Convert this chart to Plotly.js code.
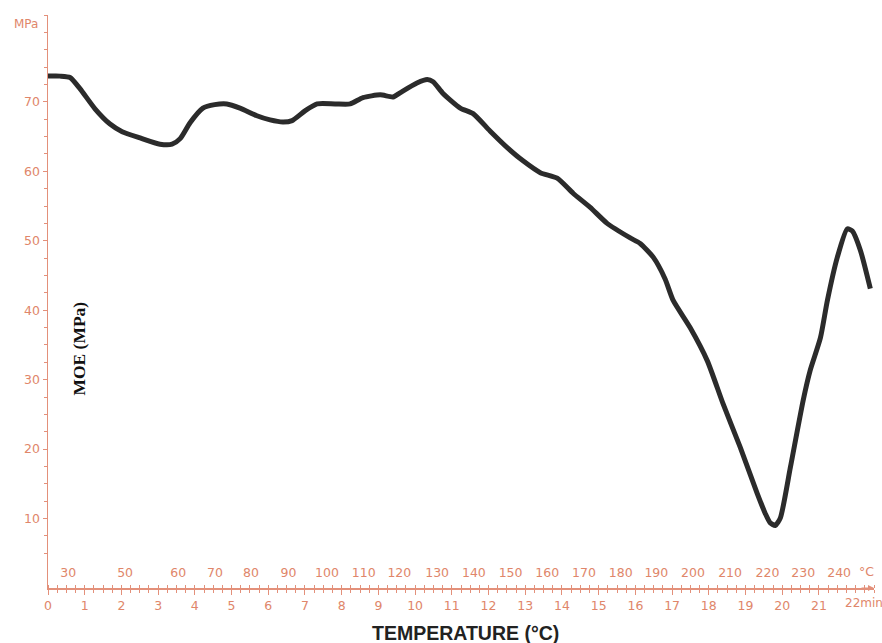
<!DOCTYPE html>
<html>
<head>
<meta charset="utf-8">
<script src="https://cdn.plot.ly/plotly-3.0.1.min.js"></script>
<style>html,body{margin:0;padding:0;background:#fff;}#chart{width:882px;height:643px;}</style>
</head>
<body>
<div id="chart"></div>
<script>
// Time (min) and MOE (MPa)
const timeMin = [0, 0.33, 0.6, 0.87, 1.28, 1.69, 2.02, 2.51, 3.05, 3.38, 3.6, 3.87, 4.22, 4.54, 4.87, 5.23, 5.69, 6.05, 6.4, 6.65, 7.0, 7.33, 7.82, 8.23, 8.58, 9.05, 9.4, 9.59, 10.05, 10.33, 10.49, 10.76, 11.23, 11.58, 12.04, 12.51, 12.94, 13.41, 13.87, 14.31, 14.77, 15.23, 15.86, 16.13, 16.49, 16.81, 17.03, 17.49, 17.96, 18.39, 18.86, 19.32, 19.54, 19.67, 19.81, 19.95, 20.22, 20.57, 20.76, 21.04, 21.23, 21.5, 21.77, 21.91, 22.13, 22.4];
const moe = [73.7, 73.7, 73.5, 71.9, 69.0, 66.8, 65.7, 64.8, 63.9, 63.9, 64.7, 67.0, 69.1, 69.6, 69.7, 69.1, 68.0, 67.4, 67.1, 67.3, 68.7, 69.7, 69.7, 69.7, 70.6, 71.0, 70.7, 71.3, 72.7, 73.2, 72.9, 71.2, 69.1, 68.3, 65.8, 63.4, 61.5, 59.8, 59.0, 56.8, 54.8, 52.5, 50.4, 49.6, 47.6, 44.5, 41.4, 37.5, 32.7, 26.5, 20.2, 13.6, 10.7, 9.4, 9.0, 10.1, 17.3, 27.0, 31.3, 36.0, 41.4, 47.6, 51.7, 51.4, 48.6, 43.1];

// Axis tick labels
const timeTicks = [0,1,2,3,4,5,6,7,8,9,10,11,12,13,14,15,16,17,18,19,20,21];
const timeTickText = ["0","1","2","3","4","5","6","7","8","9","10","11","12","13","14","15","16","17","18","19","20","21"];
const tempPos = [0.55, 2.1, 3.55, 4.55, 5.53, 6.55, 7.6, 8.6, 9.57, 10.6, 11.6, 12.6, 13.6, 14.6, 15.6, 16.57, 17.57, 18.58, 19.6, 20.57, 21.55];
const tempLabels = ["30","50","60","70","80","90","100","110","120","130","140","150","160","170","180","190","200","210","220","230","240"];
const tempUnit = "°C";
const timeEndLabel = "22min";
const yTicks = [10,20,30,40,50,60,70];

const axisColor = '#e3907a';
const labelColor = '#e0866a';
const tickFont = {family: 'DejaVu Sans, Verdana, sans-serif', size: 12.5, color: labelColor};

const trace = {
  x: timeMin, y: moe, type: 'scatter', mode: 'lines',
  line: {color: '#2b2b2b', width: 5, shape: 'spline', smoothing: 0.6},
  xaxis: 'x', yaxis: 'y', hoverinfo: 'skip'
};

const layout = {
  width: 882, height: 643,
  margin: {l: 48, r: 8, t: 15, b: 55},
  paper_bgcolor: '#ffffff', plot_bgcolor: '#ffffff',
  showlegend: false,
  xaxis: {
    range: [0, 22.5], showgrid: false, zeroline: false,
    showline: true, linecolor: axisColor, linewidth: 1.5,
    tickmode: 'array', tickvals: timeTicks, ticktext: timeTickText,
    ticks: 'outside', ticklen: 5, tickcolor: axisColor, tickwidth: 1,
    minor: {dtick: 0.25, tick0: 0, ticks: 'outside', ticklen: 3, tickcolor: axisColor, tickwidth: 1},
    tickfont: tickFont, fixedrange: true
  },
  xaxis2: {
    overlaying: 'x', anchor: 'y', side: 'bottom',
    range: [0, 22.5], showgrid: false, zeroline: false, showline: false,
    tickmode: 'array', tickvals: tempPos, ticktext: tempLabels,
    ticks: '', ticklabelposition: 'inside', ticklabelstandoff: 6,
    minor: {dtick: 0.25, tick0: 0, ticks: 'inside', ticklen: 3, tickcolor: axisColor, tickwidth: 1, showgrid: false},
    tickfont: tickFont, fixedrange: true
  },
  yaxis: {
    range: [0, 82.5], showgrid: false, zeroline: false,
    showline: true, linecolor: axisColor, linewidth: 1.5,
    tickmode: 'array', tickvals: yTicks,
    ticks: 'outside', ticklen: 4, tickcolor: axisColor, tickwidth: 1,
    minor: {dtick: 2.5, tick0: 0, ticks: 'outside', ticklen: 3, tickcolor: axisColor, tickwidth: 1},
    tickfont: tickFont, fixedrange: true
  },
  annotations: [
    {text: 'MPa', xref: 'paper', yref: 'y', x: 0, y: 81.2, xanchor: 'right', yanchor: 'middle', xshift: -8,
     showarrow: false, font: {family: 'DejaVu Sans, Verdana, sans-serif', size: 12, color: labelColor}},
    {text: tempUnit, xref: 'x', yref: 'paper', x: 22.3, y: 0, xanchor: 'center', yanchor: 'bottom', yshift: 7,
     showarrow: false, font: tickFont},
    {text: timeEndLabel, xref: 'x', yref: 'paper', x: 22, y: 0, xanchor: 'left', yanchor: 'top', xshift: -13, yshift: -6,
     showarrow: false, font: {family: 'DejaVu Sans, Verdana, sans-serif', size: 12, color: labelColor}},
    {text: '', xref: 'x', yref: 'y', x: 22.5, y: 0, ax: -14, ay: 0, showarrow: true,
     arrowhead: 2, arrowsize: 1, arrowwidth: 1.2, arrowcolor: axisColor},
    {text: '<b>MOE (MPa)</b>', xref: 'paper', yref: 'paper', x: 0.037, y: 0.417, xanchor: 'center', yanchor: 'middle',
     textangle: -90, showarrow: false, font: {family: 'Liberation Serif, Times New Roman, serif', size: 17.5, color: '#111'}},
    {text: '<b>TEMPERATURE (°C)</b>', xref: 'paper', yref: 'paper', x: 0.505, y: 0, xanchor: 'center', yanchor: 'middle', yshift: -45,
     showarrow: false, font: {family: 'Liberation Sans, Arial, sans-serif', size: 19.5, color: '#222'}}
  ]
};

const traces = [trace, {x: [0], y: [0], xaxis: 'x2', yaxis: 'y', mode: 'markers', marker: {opacity: 0}, hoverinfo: 'skip', showlegend: false}];
Plotly.newPlot('chart', traces, layout, {displayModeBar: false, staticPlot: true});
</script>
</body>
</html>
